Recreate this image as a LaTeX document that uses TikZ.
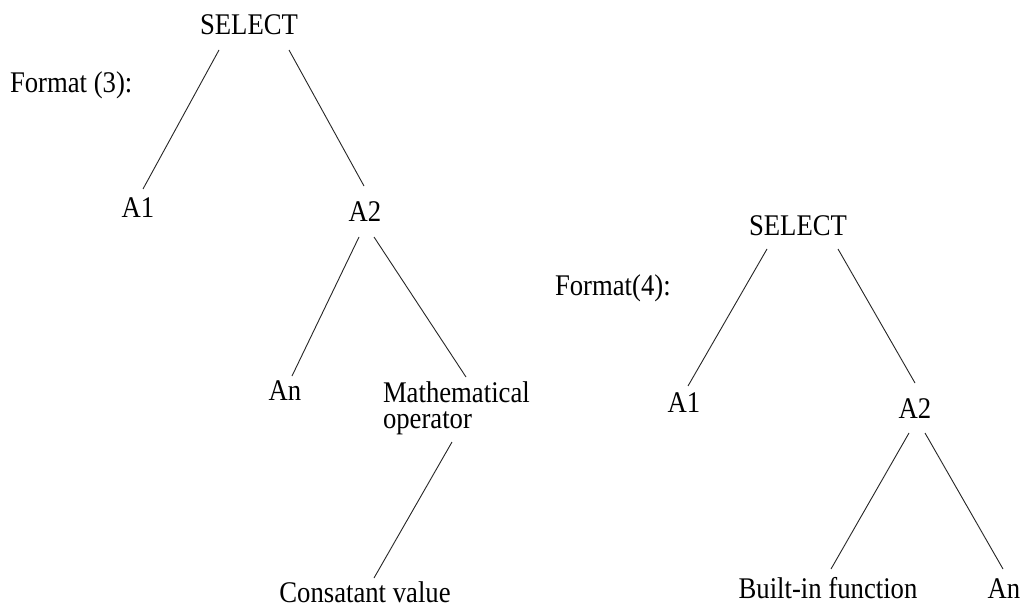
\documentclass[tikz,border=0pt]{standalone}
\usepackage{fontspec}
\setmainfont{Liberation Serif}[FakeStretch=0.89]
\usetikzlibrary{calc}
\begin{document}
\begin{tikzpicture}[x=1pt,y=-1pt,
  lbl/.style={inner sep=0pt,outer sep=0pt,anchor=base,font=\fontsize{30}{25.5}\selectfont},
  edge/.style={draw=black!85,line width=0.9pt}]
\useasboundingbox[fill=white] (0,0) rectangle (1023,607);
% left tree
\node[lbl] (s1) at (249,35) {SELECT};
\node[lbl,anchor=base west] (f3) at (10,93) {Format (3):};
\node[lbl] (a1) at (138,217) {A1};
\node[lbl] (a2) at (365,222) {A2};
\node[lbl] (an) at (285,400) {An};
\node[lbl,anchor=base west,align=left] (m) at (383,428) {Mathematical\\operator};
\node[lbl] (cv) at (365,602) {Consatant value};
\draw[edge] ($(s1.base)+(-30,15)$) -- ($(a1.base)+(5,-28)$);
\draw[edge] ($(s1.base)+(40,15)$) -- ($(a2.base)+(-1,-36)$);
\draw[edge] ($(a2.base)+(-6,15)$) -- ($(an.base)+(7,-24)$);
\draw[edge] ($(a2.base)+(9,15)$) -- ($(m.base west)+(83,-51)$);
\draw[edge] ($(m.base west)+(69,14)$) -- ($(cv.base)+(9,-24)$);
% right tree
\node[lbl] (s2) at (798,235) {SELECT};
\node[lbl,anchor=base west] (f4) at (555,295) {Format(4):};
\node[lbl] (b1) at (684,412) {A1};
\node[lbl] (b2) at (915,418) {A2};
\node[lbl] (bf) at (828,598) {Built-in function};
\node[lbl] (bn) at (1004,598) {An};
\draw[edge] ($(s2.base)+(-31,14)$) -- ($(b1.base)+(4,-26)$);
\draw[edge] ($(s2.base)+(40,14)$) -- ($(b2.base)+(0,-35)$);
\draw[edge] ($(b2.base)+(-6,15)$) -- ($(bf.base)+(3,-29)$);
\draw[edge] ($(b2.base)+(10,15)$) -- ($(bn.base)+(-1,-29)$);
\end{tikzpicture}
\end{document}
